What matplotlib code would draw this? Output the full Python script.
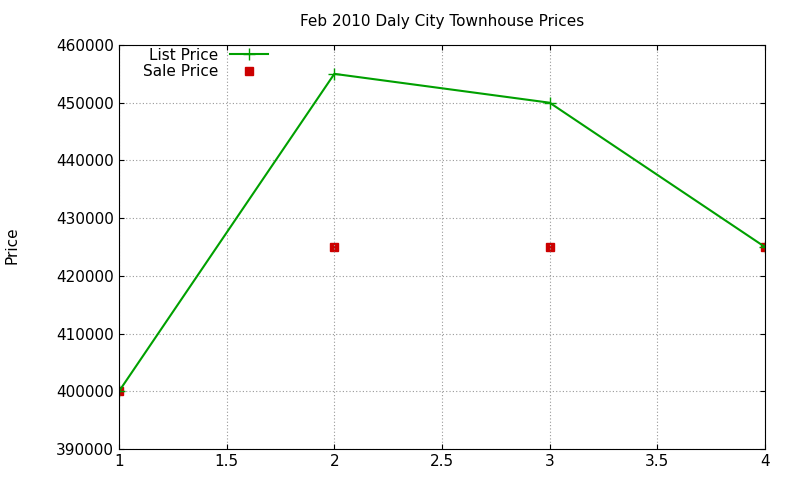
import matplotlib
matplotlib.use("Agg")
import matplotlib.pyplot as plt

x = [1, 2, 3, 4]
list_price = [400000, 455000, 450000, 425000]
sale_price = [400000, 425000, 425000, 425000]

fig = plt.figure(figsize=(8, 4.8), dpi=100)
ax = fig.add_axes([119/800, 1-449/480, (765-119)/800, (449-45)/480])
ax.plot(x, list_price, color="#00a000", marker="+", markersize=8, lw=1.5, label="List Price")
ax.plot(x, sale_price, color="#cc0000", marker="s", markersize=6, lw=0, label="Sale Price", zorder=1)
ax.set_xlim(1, 4)
ax.set_ylim(390000, 460000)
ax.set_xticks([1, 1.5, 2, 2.5, 3, 3.5, 4])
ax.set_xticklabels(["1", "1.5", "2", "2.5", "3", "3.5", "4"])
ax.set_yticks(range(390000, 460001, 10000))
ax.grid(True, color="#999999", linestyle=(0, (1, 2)), lw=0.8)
ax.tick_params(direction="in", labelsize=11, top=True, right=True)
ax.set_title("Feb 2010 Daly City Townhouse Prices", fontsize=11, pad=14)
fig.text(12/800, 1-245/480, "Price", rotation=90, va="center", ha="center", fontsize=11)
ax.legend(loc="upper left", frameon=False, markerfirst=False, fontsize=11,
          bbox_to_anchor=(0.02, 1.02), handlelength=2.5, labelspacing=0.1, borderpad=0.2)
fig.savefig("out.png", dpi=100)
